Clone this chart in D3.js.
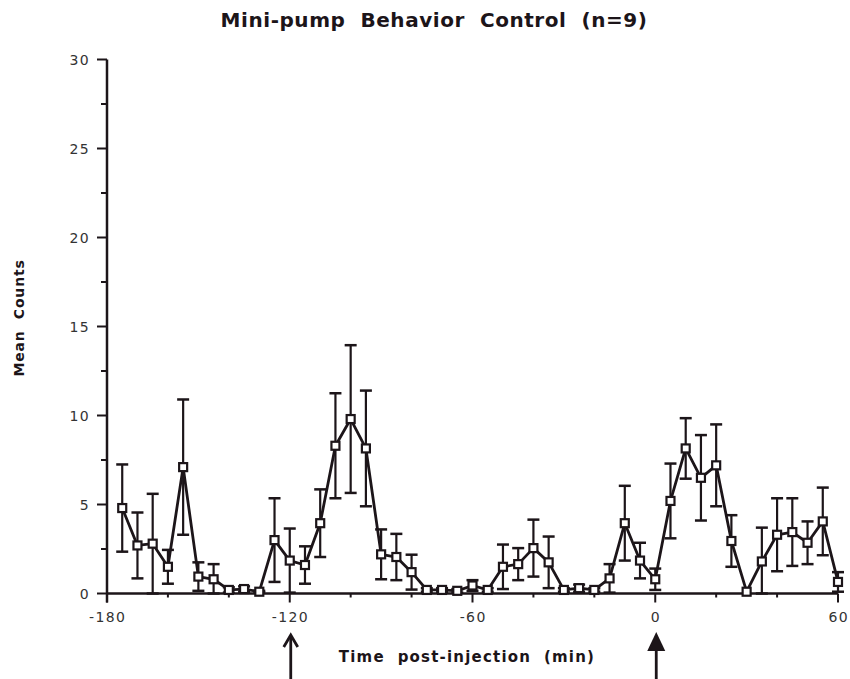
<!DOCTYPE html>
<html>
<head>
<meta charset="utf-8">
<script src="https://cdn.jsdelivr.net/npm/d3@7"></script>
<style>
    body { margin: 0; background: #fff; }
    text { font-family: "DejaVu Sans", "Liberation Sans", Arial, sans-serif; }
</style>
</head>
<body>
<div id="chart"></div>
<script>
// Time bins (min post-injection), mean counts and error bars
const times = [-175, -170, -165, -160, -155, -150, -145, -140, -135, -130, -125, -120,
    -115, -110, -105, -100, -95, -90, -85, -80, -75, -70, -65, -60,
    -55, -50, -45, -40, -35, -30, -25, -20, -15, -10, -5, 0,
    5, 10, 15, 20, 25, 30, 35, 40, 45, 50, 55, 60];
const meanCounts = [4.8, 2.7, 2.8, 1.5, 7.1, 0.95, 0.8, 0.2, 0.25, 0.1, 3.0, 1.85,
    1.6, 3.95, 8.3, 9.8, 8.15, 2.2, 2.05, 1.2, 0.2, 0.2, 0.15, 0.45,
    0.2, 1.5, 1.65, 2.55, 1.75, 0.2, 0.3, 0.2, 0.85, 3.95, 1.85, 0.8,
    5.2, 8.15, 6.5, 7.2, 2.95, 0.1, 1.8, 3.3, 3.45, 2.85, 4.05, 0.65];
const errors = [2.45, 1.85, 2.8, 0.95, 3.8, 0.8, 0.85, 0.15, 0.15, 0.05, 2.35, 1.8,
    1.05, 1.9, 2.95, 4.15, 3.25, 1.4, 1.3, 0.98, 0.1, 0.1, 0.1, 0.3,
    0.1, 1.25, 0.9, 1.6, 1.45, 0.1, 0.2, 0.1, 0.8, 2.1, 1.0, 0.6,
    2.1, 1.7, 2.4, 2.3, 1.45, 0, 1.9, 2.05, 1.9, 1.2, 1.9, 0.55];
const xTicks = [-180, -120, -60, 0, 60];
const xMinorTicks = [-160, -140, -100, -80, -40, -20, 20, 40];
const yTicks = [0, 5, 10, 15, 20, 25, 30];
const yMinorTicks = [2.5, 7.5, 12.5, 17.5, 22.5, 27.5];
const injections = [-120, 0];

const data = times.map((t, i) => ({ t: t, v: meanCounts[i], e: errors[i] }));

const width = 850, height = 679;
const ink = '#1c1519';
const labelInk = '#333';

const svg = d3.select('#chart').append('svg')
    .attr('width', width)
    .attr('height', height);

const x = d3.scaleLinear().domain([-180, 60]).range([107, 838]);
const y = d3.scaleLinear().domain([0, 30]).range([593.5, 59.5]);

// title
svg.append('text')
    .attr('x', 434).attr('y', 27)
    .attr('text-anchor', 'middle')
    .attr('font-size', 20)
    .attr('font-weight', 'bold')
    .attr('letter-spacing', 0.55)
    .style('white-space', 'pre')
    .attr('fill', ink)
    .text('Mini-pump  Behavior  Control  (n=9)');

// y axis
const yAxis = svg.append('g').attr('transform', 'translate(' + x(-180) + ',0)');
yAxis.append('line')
    .attr('y1', y(30)).attr('y2', y(0) + 9)
    .attr('stroke', ink).attr('stroke-width', 2.5);
yAxis.selectAll('.ymajor').data(yTicks).enter().append('line')
    .attr('class', 'ymajor')
    .attr('x1', -10).attr('x2', 0)
    .attr('y1', d => y(d)).attr('y2', d => y(d))
    .attr('stroke', ink).attr('stroke-width', 2);
yAxis.selectAll('.yminor').data(yMinorTicks).enter().append('line')
    .attr('class', 'yminor')
    .attr('x1', -6).attr('x2', 0)
    .attr('y1', d => y(d)).attr('y2', d => y(d))
    .attr('stroke', ink).attr('stroke-width', 2);
yAxis.selectAll('.ylabel').data(yTicks).enter().append('text')
    .attr('class', 'ylabel')
    .attr('x', -17).attr('y', d => y(d) + 5)
    .attr('text-anchor', 'end')
    .attr('font-size', 14)
    .attr('letter-spacing', 1.4)
    .attr('fill', labelInk)
    .text(d => d);

// x axis
const xAxis = svg.append('g').attr('transform', 'translate(0,' + y(0) + ')');
xAxis.append('line')
    .attr('x1', x(-180)).attr('x2', x(60))
    .attr('stroke', ink).attr('stroke-width', 2.5);
xAxis.selectAll('.xmajor').data(xTicks).enter().append('line')
    .attr('class', 'xmajor')
    .attr('x1', d => x(d)).attr('x2', d => x(d))
    .attr('y1', 0).attr('y2', 9)
    .attr('stroke', ink).attr('stroke-width', 2);
xAxis.selectAll('.xminor').data(xMinorTicks).enter().append('line')
    .attr('class', 'xminor')
    .attr('x1', d => x(d)).attr('x2', d => x(d))
    .attr('y1', 0).attr('y2', 4)
    .attr('stroke', ink).attr('stroke-width', 2);
xAxis.selectAll('.xlabel').data(xTicks).enter().append('text')
    .attr('class', 'xlabel')
    .attr('x', d => x(d) + 0.7).attr('y', 28)
    .attr('text-anchor', 'middle')
    .attr('font-size', 14)
    .attr('letter-spacing', 1.4)
    .attr('fill', labelInk)
    .text(d => d);

// axis titles
svg.append('text')
    .attr('x', 467).attr('y', 662)
    .attr('text-anchor', 'middle')
    .attr('font-size', 15)
    .attr('font-weight', 'bold')
    .attr('letter-spacing', 1.2)
    .style('white-space', 'pre')
    .attr('fill', ink)
    .text('Time  post-injection  (min)');

svg.append('text')
    .attr('transform', 'translate(24,318) rotate(-90)')
    .attr('text-anchor', 'middle')
    .attr('font-size', 14)
    .attr('font-weight', 'bold')
    .attr('letter-spacing', 0.8)
    .style('white-space', 'pre')
    .attr('fill', ink)
    .text('Mean  Counts');

// error bars
const bars = svg.append('g').selectAll('.err').data(data.filter(d => d.e > 0)).enter().append('g')
    .attr('class', 'err');
bars.append('line')
    .attr('x1', d => x(d.t)).attr('x2', d => x(d.t))
    .attr('y1', d => y(d.v + d.e)).attr('y2', d => y(Math.max(0, d.v - d.e)))
    .attr('stroke', ink).attr('stroke-width', 2.2);
bars.append('line')
    .attr('x1', d => x(d.t) - 6).attr('x2', d => x(d.t) + 6)
    .attr('y1', d => y(d.v + d.e)).attr('y2', d => y(d.v + d.e))
    .attr('stroke', ink).attr('stroke-width', 2.5);
bars.append('line')
    .attr('x1', d => x(d.t) - 6).attr('x2', d => x(d.t) + 6)
    .attr('y1', d => y(Math.max(0, d.v - d.e))).attr('y2', d => y(Math.max(0, d.v - d.e)))
    .attr('stroke', ink).attr('stroke-width', 2.5);

// mean line
const line = d3.line().x(d => x(d.t)).y(d => y(d.v));
svg.append('path')
    .datum(data)
    .attr('d', line)
    .attr('fill', 'none')
    .attr('stroke', ink)
    .attr('stroke-width', 2.8)
    .attr('stroke-linejoin', 'round');

// open square markers
svg.append('g').selectAll('.pt').data(data).enter().append('rect')
    .attr('class', 'pt')
    .attr('x', d => x(d.t) - 4).attr('y', d => y(d.v) - 4)
    .attr('width', 8).attr('height', 8)
    .attr('fill', '#fff')
    .attr('stroke', ink)
    .attr('stroke-width', 2.2);

// injection arrows
const arrows = svg.append('g').selectAll('.arrow').data(injections).enter().append('g')
    .attr('class', 'arrow');
arrows.append('line')
    .attr('x1', d => x(d) + 1).attr('x2', d => x(d) + 1)
    .attr('y1', 636).attr('y2', 679)
    .attr('stroke', ink).attr('stroke-width', 2.8);
arrows.filter((d, i) => i === 0).append('path')
    .attr('d', d => 'M' + (x(d) - 6) + ',' + 647 + 'L' + (x(d) + 1) + ',' + 635 + 'L' + (x(d) + 8) + ',' + 647)
    .attr('fill', 'none')
    .attr('stroke', ink)
    .attr('stroke-width', 2.8);
arrows.filter((d, i) => i === 1).append('path')
    .attr('d', d => 'M' + (x(d) - 8) + ',' + 651 + 'L' + (x(d) + 1) + ',' + 632 + 'L' + (x(d) + 10) + ',' + 651 + 'Z')
    .attr('fill', ink);
</script>
</body>
</html>
